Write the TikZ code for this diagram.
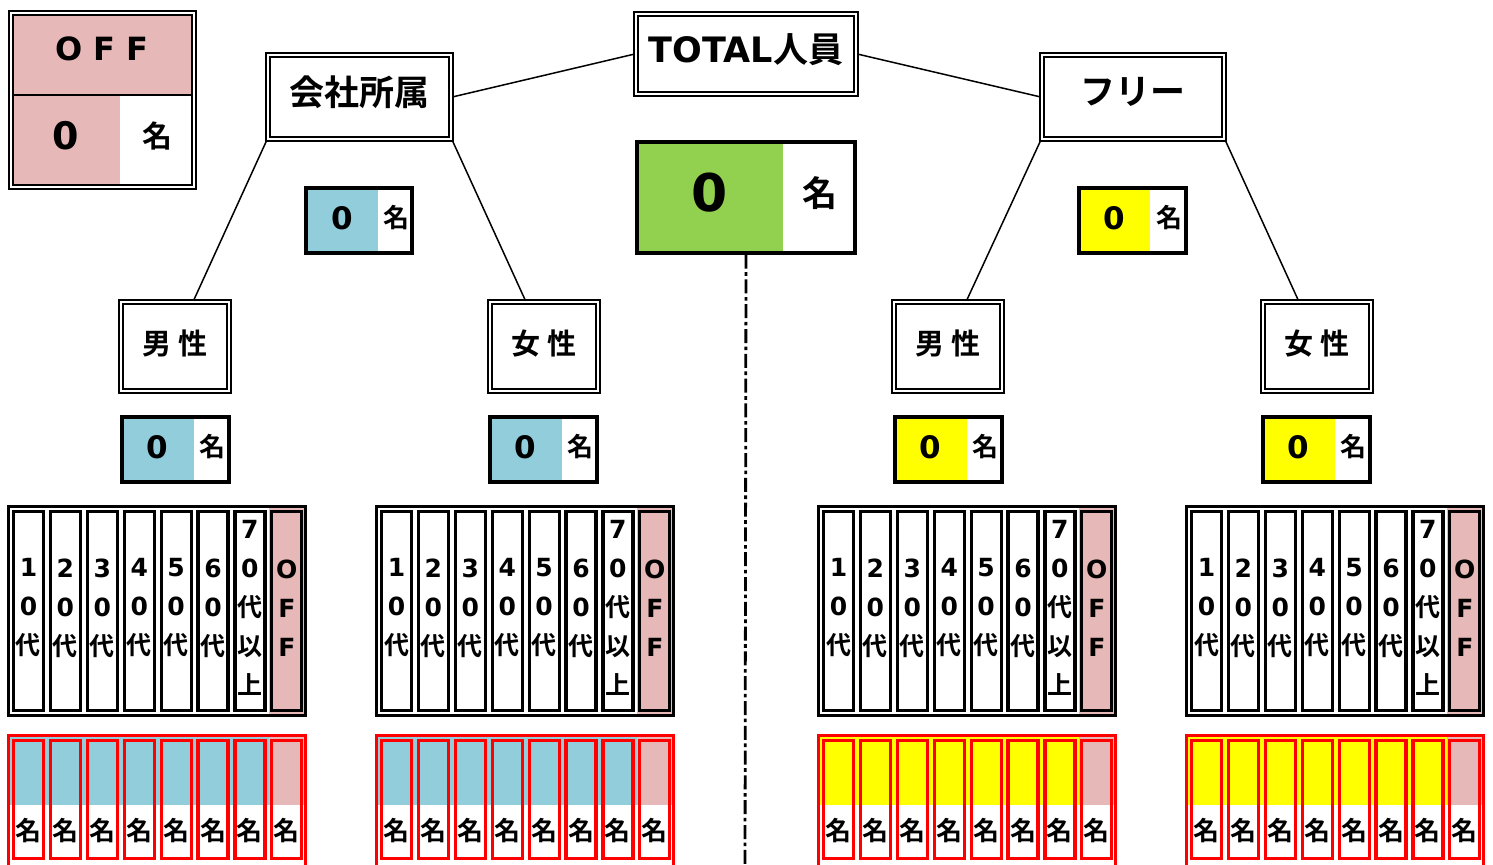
\documentclass[tikz,border=0pt]{standalone}
\usepackage{fontspec}
\setmainfont{Noto Sans CJK JP}[BoldFont={Noto Sans CJK JP Bold}]
\newfontfamily\latf{DejaVu Sans}
\usepackage{tikz}
\definecolor{offpink}{HTML}{E6B8B7}
\definecolor{corpblue}{HTML}{92CDDC}
\definecolor{totalgreen}{HTML}{92D050}
\definecolor{freeyellow}{HTML}{FFFF00}

\begin{document}
\begin{tikzpicture}[
    x=0.5pt, y=-0.5pt,
    dblbox/.style={rectangle, draw, double, line width=1.25pt, double distance=0.8pt, fill=white, inner sep=0pt, text depth=6pt, font=\fontsize{17.5}{20}\selectfont\bfseries},
    sexbox/.style={dblbox, minimum width=54pt, minimum height=44.5pt, text depth=4.5pt, font=\fontsize{14.5}{16}\selectfont\bfseries},
    link/.style={line width=0.75pt},
    frame/.style={line width=1.6pt},
    num/.style={font=\fontsize{15.5}{16}\selectfont\latf\bfseries},
    mei/.style={font=\fontsize{13}{14}\selectfont\bfseries},
    agetxt/.style={align=center, inner sep=0pt, font=\fontsize{12.5}{19.5}\selectfont\bfseries}
]
    \useasboundingbox (0,0) rectangle (1493,864);

    \fill[offpink] (12,15) rectangle (192,95);
    \fill[offpink] (12,95) rectangle (120,185);
    \draw[line width=1.3pt] (12,95) -- (192,95);
    \draw[double, line width=1.25pt, double distance=0.8pt] (11,13) rectangle (194,187);
    \node[font=\fontsize{16}{16}\selectfont\latf\bfseries] (off) at (102,49) {O F F};
    \node[font=\fontsize{19}{20}\selectfont\latf\bfseries] (offnum) at (66,136) {0};
    \node[font=\fontsize{15}{16}\selectfont\bfseries] (offmei) at (157,136) {名};

    \node[dblbox, minimum width=110pt, minimum height=40pt] (total) at (746,54) {{\latf TOTAL}人員};
    \node[dblbox, minimum width=91.5pt, minimum height=42pt] (corp) at (359.5,97) {会社所属};
    \node[dblbox, minimum width=91pt, minimum height=42pt] (free) at (1133,97) {フリー};

    \node[sexbox] (corpm) at (175,346.5) {男 性};
    \node[sexbox] (corpf) at (544,346.5) {女 性};
    \node[sexbox] (freem) at (948,346.5) {男 性};
    \node[sexbox] (freef) at (1317,346.5) {女 性};

    \draw[link] (total.west) -- (corp.east);
    \draw[link] (total.east) -- (free.west);
    \draw[link] (corp.south west) -- (corpm.68);
    \draw[link] (corp.south east) -- (corpf.112);
    \draw[link] (free.south west) -- (freem.68);
    \draw[link] (free.south east) -- (freef.112);

    \fill[totalgreen] (637,142) rectangle (783,253);
    \node[draw, frame, minimum width=109pt, minimum height=55.5pt, inner sep=0pt] (totalcnt) at (746,197.5) {};
    \node[font=\fontsize{26}{28}\selectfont\latf\bfseries] (totalnum) at (710,193) {0};
    \node[font=\fontsize{17.5}{20}\selectfont\bfseries] (totalmei) at (820,193) {名};
    \coordinate (dashend) at (745,870);
    \draw[line width=1.4pt, dash pattern=on 7pt off 1.8pt on 1.8pt off 1.8pt] (totalcnt.south) -- (dashend);

    \fill[corpblue] (306,188) rectangle (378,253);
    \draw[frame] (306,188) rectangle (412,253);
    \node[num] (corpnum) at (342,218) {0};
    \node[mei] (corpmei) at (396,218) {名};

    \fill[freeyellow] (1079,188) rectangle (1150,253);
    \draw[frame] (1079,188) rectangle (1186,253);
    \node[num] (freenum) at (1114,218) {0};
    \node[mei] (freemei) at (1169,218) {名};

    \foreach \x/\c/\n in {120/corpblue/corpm, 488/corpblue/corpf, 893/freeyellow/freem, 1261/freeyellow/freef} {
        \fill[\c] (\x+2,417) rectangle (\x+74,482);
        \draw[frame] (\x+2,417) rectangle (\x+109,482);
        \node[num] (\n-num) at (\x+37,447) {0};
        \node[mei] (\n-mei) at (\x+92,447) {名};
    }

    \foreach \gx/\c/\n in {7/corpblue/corpm, 375/corpblue/corpf, 817/freeyellow/freem, 1185/freeyellow/freef} {
        \fill[offpink] (\gx+262,508) rectangle (\gx+297,714);
        \draw[frame] (\gx+1.5,506.5) rectangle (\gx+298.5,715.5);
        \foreach \i in {0,...,7}
            \draw[frame] (\gx+6.5+\i*36.9,511.5) rectangle (\gx+36.5+\i*36.9,710.5);
        \foreach \i in {1,...,6}
            \node[agetxt] (\n-age\i) at (\gx+21.5+\i*36.9-36.9,608) {{\latf\i}\\{\latf 0}\\代};
        \node[agetxt] (\n-age7) at (\gx+21.5+6*36.9,608) {{\latf 7}\\{\latf 0}\\代\\以\\上};
        \node[agetxt] (\n-off) at (\gx+21.5+7*36.9,608) {{\latf O}\\{\latf F}\\{\latf F}};

        \fill[\c] (\gx+3,737) rectangle (\gx+262,805);
        \fill[offpink] (\gx+262,737) rectangle (\gx+297,805);
        \draw[frame, red] (\gx+1.5,735.5) rectangle (\gx+298.5,880);
        \foreach \i in {0,...,7} {
            \draw[frame, red] (\gx+6.5+\i*36.9,740.5) rectangle (\gx+36.5+\i*36.9,858.5);
            \node[mei] (\n-cnt\i) at (\gx+21.5+\i*36.9,831) {名};
        }
    }
\end{tikzpicture}
\end{document}
